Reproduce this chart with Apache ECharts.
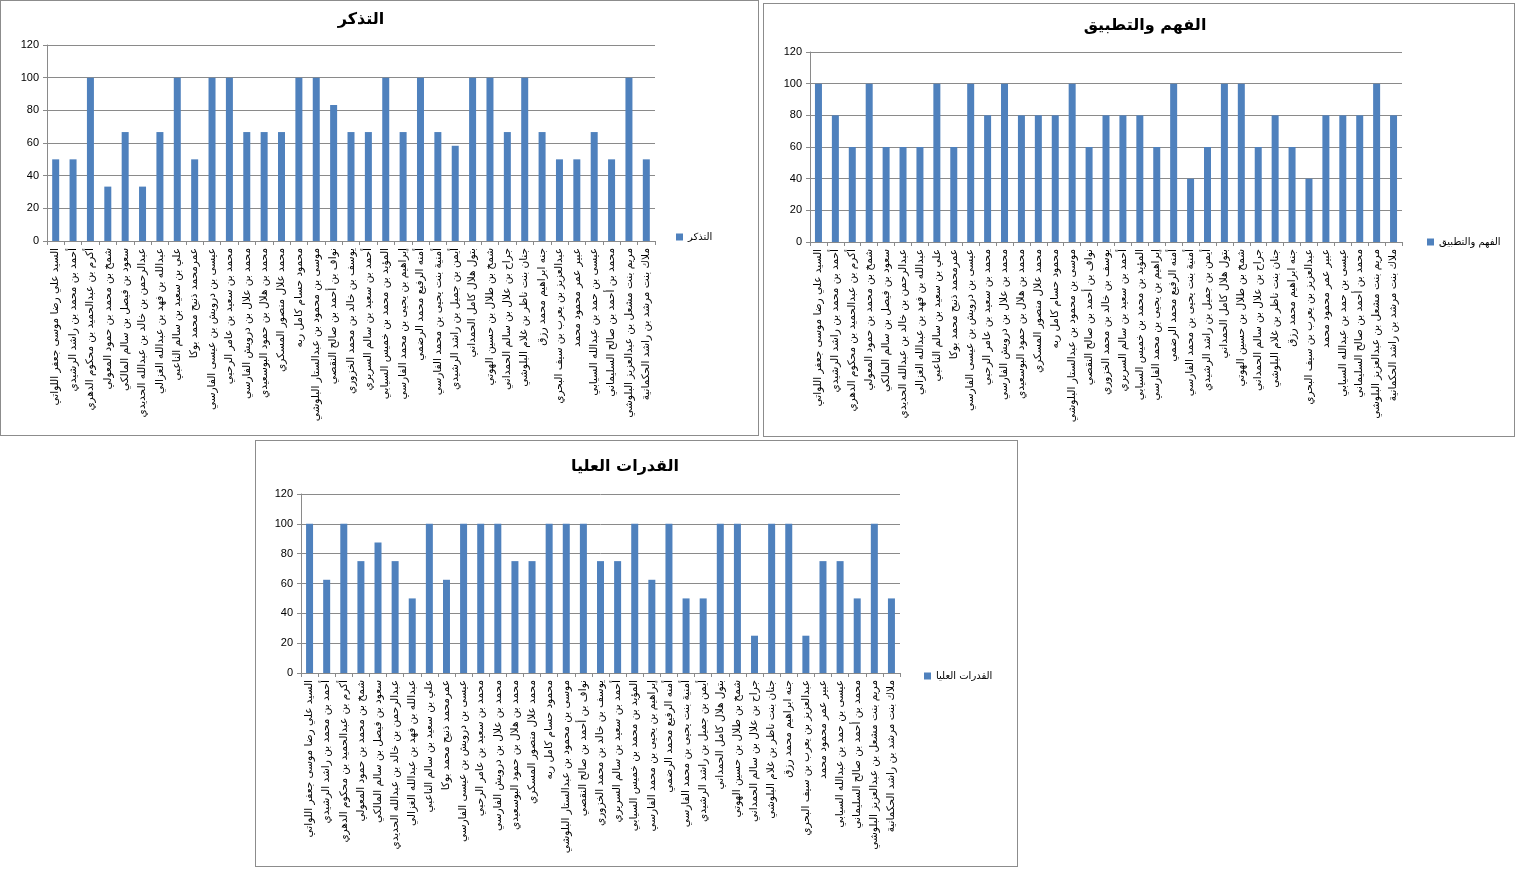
<!DOCTYPE html>
<html>
<head>
<meta charset="utf-8">
<script src="https://cdn.jsdelivr.net/npm/echarts@6/dist/echarts.min.js"></script>
<style>
html,body{margin:0;padding:0;background:#fff;width:1517px;height:873px;overflow:hidden;}
.panel{position:absolute;border:1px solid #8c8c8c;box-sizing:border-box;background:#fff;}
</style>
</head>
<body>
<div id="c1" class="panel" style="left:0px;top:0px;width:759px;height:436px;"></div>
<div id="c2" class="panel" style="left:763px;top:3px;width:752px;height:434px;"></div>
<div id="c3" class="panel" style="left:255px;top:440px;width:763px;height:427px;"></div>
<script>
const categories = [
  "السيد علي رضا موسى جعفر اللواتي",
  "أحمد بن محمد بن راشد الرشيدي",
  "أكرم بن عبدالحميد بن محكوم الدهري",
  "شمخ بن محمد بن حمود المعولي",
  "سعود بن فيصل بن سالم المالكي",
  "عبدالرحمن بن خالد بن عبدالله الحديدي",
  "عبدالله بن فهد بن عبدالله الغزالي",
  "علي بن سعيد بن سالم الناعبي",
  "عمرمحمد ذنيح محمد بوكا",
  "عيسى بن درويش بن عيسى الفارسي",
  "محمد بن سعيد بن عامر الرحبي",
  "محمد بن علال بن درويش الفارسي",
  "محمد بن هلال بن حمود البوسعيدي",
  "محمد علال منصور المسكري",
  "محمود حسام كامل ربه",
  "موسى بن محمود بن عبدالستار البلوشي",
  "نواف بن أحمد بن صالح النقصي",
  "يوسف بن خالد بن محمد الخزوري",
  "أحمد بن سعيد بن سالم السريري",
  "المؤيد بن محمد بن خميس السيابي",
  "إبراهيم بن يحيى بن محمد الفارسي",
  "أمنه الرفيع محمد الرضمي",
  "أمنية بنت يحيى بن محمد الفارسي",
  "أيمن بن جميل بن راشد الرشيدي",
  "بتول هلال كامل الحمداني",
  "شمخ بن طلال بن حسين الهوتي",
  "جراح بن علال بن سالم الحمداني",
  "جنان بنت ناظر بن غلام البلوشي",
  "جنه ابراهيم محمد رزق",
  "عبدالعزيز بن يعرب بن سيف البحري",
  "عبير عمر محمود محمد",
  "عيسى بن حمد بن عبدالله السيابي",
  "محمد بن أحمد بن صالح السليماني",
  "مريم بنت مشعل بن عبدالعزيز البلوشي",
  "ملاك بنت مرشد بن راشد الحكمانية"
];
const recallName = "التذكر";
const recallValues = [50,50,100,33.3,66.7,33.3,66.7,100,50,100,100,66.7,66.7,66.7,100,100,83.3,66.7,66.7,100,66.7,100,66.7,58.3,100,100,66.7,100,66.7,50,50,66.7,50,100,50];
const understandName = "الفهم والتطبيق";
const understandValues = [100,80,60,100,60,60,60,100,60,100,80,100,80,80,80,100,60,80,80,80,60,100,40,60,100,100,60,80,60,40,80,80,80,100,80];
const higherName = "القدرات العليا";
const higherValues = [100,62.5,100,75,87.5,75,50,100,62.5,100,100,100,75,75,100,100,100,75,75,100,62.5,100,50,50,100,100,25,100,100,25,75,75,50,100,50];
const yMin = 0, yMax = 120, yStep = 20;

const AR_FONT = "DejaVu Sans";
const BAR_COLOR = "#4F81BD";
const GRID_COLOR = "#8a8a8a";

function makeChart(id, name, values, layout) {
  const chart = echarts.init(document.getElementById(id), null, {renderer: 'canvas'});
  chart.setOption({
    animation: false,
    title: {
      text: name,
      left: layout.titleX,
      top: layout.titleY,
      textAlign: 'center',
      textStyle: {fontFamily: AR_FONT, fontSize: 16, fontWeight: 'bold', color: '#000'}
    },
    legend: {
      data: [name],
      left: layout.legendX,
      top: layout.legendY,
      icon: 'rect',
      itemWidth: 7,
      itemHeight: 7,
      itemGap: 4,
      textStyle: {fontFamily: AR_FONT, fontSize: 10, color: '#000'}
    },
    grid: layout.grid,
    xAxis: {
      type: 'category',
      data: categories,
      boundaryGap: true,
      axisLine: {lineStyle: {color: GRID_COLOR, width: 1}},
      axisTick: {show: true, length: 4, lineStyle: {color: GRID_COLOR}},
      axisLabel: {interval: 0, rotate: 90, fontFamily: AR_FONT, fontSize: 10.5, color: '#000', margin: 7}
    },
    yAxis: {
      type: 'value',
      min: yMin, max: yMax, interval: yStep,
      axisLine: {show: true, lineStyle: {color: GRID_COLOR, width: 1}},
      axisTick: {show: true, length: 4, lineStyle: {color: GRID_COLOR}},
      splitLine: {show: true, lineStyle: {color: GRID_COLOR, width: 1}},
      axisLabel: {fontFamily: 'Liberation Sans', fontSize: 11, color: '#000', margin: 8}
    },
    series: [{
      name: name,
      type: 'bar',
      data: values,
      barWidth: 7,
      itemStyle: {color: BAR_COLOR}
    }]
  });
}

makeChart('c1', recallName, recallValues, {
  titleX: 355, titleY: 6,
  legendX: 670, legendY: 226,
  grid: {left: 46, right: 103, top: 44, bottom: 194}
});
makeChart('c2', understandName, understandValues, {
  titleX: 376, titleY: 9,
  legendX: 658, legendY: 228,
  grid: {left: 46, right: 112, top: 48, bottom: 194}
});
makeChart('c3', higherName, higherValues, {
  titleX: 364, titleY: 13,
  legendX: 663, legendY: 225,
  grid: {left: 45, right: 117, top: 53, bottom: 193}
});
</script>
</body>
</html>
